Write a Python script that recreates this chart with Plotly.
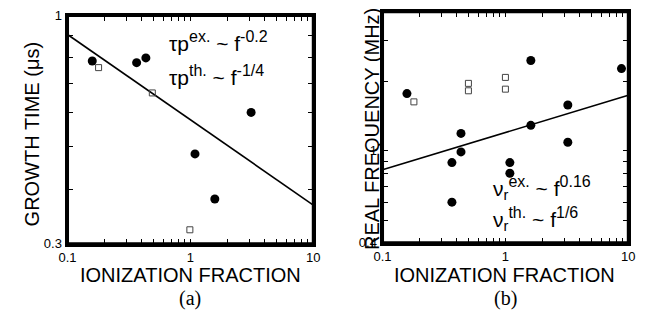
import math
import plotly.graph_objects as go

# ---- data (a) growth time ----
a_circ_x = [0.159, 0.365, 0.434, 3.12, 1.09, 1.58]
a_circ_y = [0.787, 0.78, 0.80, 0.60, 0.482, 0.38]
a_sq_x = [0.179, 0.49, 0.99]
a_sq_y = [0.76, 0.665, 0.323]
a_line_x = [0.1, 10]
a_line_y = [0.905, 0.368]

# ---- data (b) real frequency ----
b_circ_x = [0.158, 0.367, 0.367, 0.435, 0.435, 1.087, 1.087, 1.61, 1.61, 3.22, 3.22, 8.8]
b_circ_y = [1.77, 0.89, 0.60, 1.19, 0.99, 0.89, 0.80, 2.46, 1.29, 1.58, 1.09, 2.27]
b_sq_x = [0.18, 0.50, 0.50, 1.0, 1.0]
b_sq_y = [1.63, 1.96, 1.82, 2.08, 1.85]
b_line_x = [0.1, 10]
b_line_y = [0.829, 1.74]

x_tickvals = [0.1, 0.2, 0.3, 0.4, 0.5, 0.6, 0.7, 0.8, 0.9, 1, 2, 3, 4, 5, 6, 7, 8, 9, 10]
x_ticktext = ["0.1", "", "", "", "", "", "", "", "", "1", "", "", "", "", "", "", "", "", "10"]
a_y_tickvals = [0.3, 0.4, 0.5, 0.6, 0.7, 0.8, 0.9, 1]
a_y_ticktext = ["0.3", "", "", "", "", "", "", "1"]
b_y_tickvals = [0.4, 0.5, 0.6, 0.7, 0.8, 0.9, 1, 2, 3, 4]
b_y_ticktext = ["0.4", "", "", "", "", "", "1", "", "", ""]

W, H = 647, 332
FONT = "Liberation Sans, Arial, sans-serif"
A_X = [60 / W, 312 / W]
A_Y = [1 - 248 / H, 1 - 9 / H]
B_X = [383 / W, 635 / W]
B_Y = [1 - 247 / H, 1 - 5 / H]

fig = go.Figure()
circ = dict(symbol="circle", size=9, color="black")
sq = dict(symbol="square-open", size=6, color="#444", line=dict(width=1, color="#444"))

fig.add_trace(go.Scatter(x=a_line_x, y=a_line_y, mode="lines", line=dict(color="black", width=1.6),
                         xaxis="x", yaxis="y", showlegend=False))
fig.add_trace(go.Scatter(x=a_circ_x, y=a_circ_y, mode="markers", marker=circ, xaxis="x", yaxis="y", showlegend=False))
fig.add_trace(go.Scatter(x=a_sq_x, y=a_sq_y, mode="markers", marker=sq, xaxis="x", yaxis="y", showlegend=False))

fig.add_trace(go.Scatter(x=b_line_x, y=b_line_y, mode="lines", line=dict(color="black", width=1.6),
                         xaxis="x2", yaxis="y2", showlegend=False))
fig.add_trace(go.Scatter(x=b_circ_x, y=b_circ_y, mode="markers", marker=circ, xaxis="x2", yaxis="y2", showlegend=False))
fig.add_trace(go.Scatter(x=b_sq_x, y=b_sq_y, mode="markers", marker=sq, xaxis="x2", yaxis="y2", showlegend=False))


def xax(domain, anchor):
    return dict(type="log", range=[-1, 1], domain=domain, anchor=anchor,
                showline=True, linecolor="#000000", linewidth=3, mirror="allticks",
                ticks="inside", ticklen=5, tickwidth=1, tickcolor="black",
                tickmode="array", tickvals=x_tickvals, ticktext=x_ticktext,
                showgrid=False, zeroline=False,
                tickfont=dict(family=FONT, size=13, color="black"))


def yax(domain, anchor, lo, hi, tv, tt):
    return dict(type="log", range=[math.log10(lo), math.log10(hi)], domain=domain, anchor=anchor,
                showline=True, linecolor="#000000", linewidth=3, mirror="allticks",
                ticks="inside", ticklen=5, tickwidth=1, tickcolor="black",
                tickmode="array", tickvals=tv, ticktext=tt,
                showgrid=False, zeroline=False,
                tickfont=dict(family=FONT, size=13, color="black"))


fig.update_layout(
    width=W, height=H, margin=dict(l=0, r=0, t=0, b=0),
    paper_bgcolor="white", plot_bgcolor="white",
    xaxis=xax(A_X, "y"),
    yaxis=yax(A_Y, "x", 0.3, 1, a_y_tickvals, a_y_ticktext),
    xaxis2=xax(B_X, "y2"),
    yaxis2=yax(B_Y, "x2", 0.4, 4, b_y_tickvals, b_y_ticktext),
)

# frames around both panels (paper coordinates, not clipped)
for dx, dy in ((A_X, A_Y), (B_X, B_Y)):
    fig.add_shape(type="rect", xref="paper", yref="paper", x0=dx[0], x1=dx[1], y0=dy[0], y1=dy[1],
                  line=dict(color="#000000", width=3), fillcolor="rgba(0,0,0,0)", layer="above")


def ann(text, x, y, size=20, family=FONT, xanchor="center", angle=0):
    fig.add_annotation(text=text, x=x / W, y=1 - y / H, xref="paper", yref="paper",
                       xanchor=xanchor, yanchor="middle", showarrow=False, textangle=angle,
                       font=dict(family=family, size=size, color="black"))


def sup(t):
    return "<sup><span style='font-size:16px'>" + t + "</span></sup>"


ann("IONIZATION FRACTION", 186, 281, size=20)
ann("IONIZATION FRACTION", 508, 281, size=20)
ann("GROWTH TIME (μs)", 24, 133, size=20, angle=-90)
ann("REAL FREQUENCY (MHz)", 372, 128, size=20, angle=-90)
ann("(a)", 186, 305, size=20, family="Liberation Serif, Times New Roman, serif")
ann("(b)", 509, 305, size=20, family="Liberation Serif, Times New Roman, serif")

ann("τp" + sup("ex.") + " ~ f" + sup("-0.2"), 162, 36, size=21, xanchor="left")
ann("τp" + sup("th.") + " ~ f" + sup("-1/4"), 162, 72, size=21, xanchor="left")
ann("ν<sub>r</sub>" + sup("ex.") + " ~ f" + sup("0.16"), 494, 190, size=21, xanchor="left")
ann("ν<sub>r</sub>" + sup("th.") + " ~ f" + sup("1/6"), 494, 222, size=21, xanchor="left")

fig.write_html("out.html", config={"displayModeBar": False},
               post_script="document.body.style.margin='0';document.body.style.overflow='hidden';")
